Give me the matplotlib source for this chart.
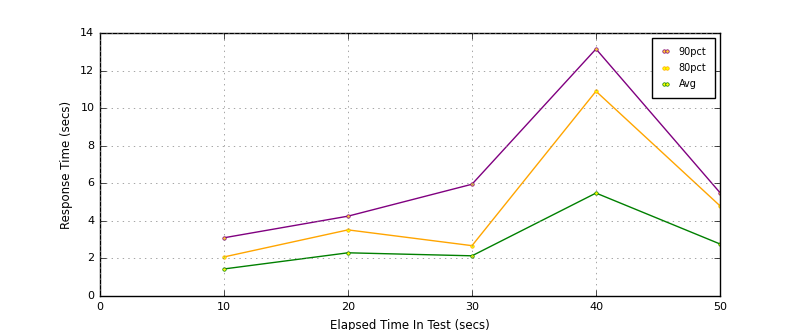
import matplotlib
matplotlib.use('Agg')
import matplotlib.pyplot as plt

elapsed = [10, 20, 30, 40, 50]
pct90 = [3.1, 4.25, 5.95, 13.15, 5.5]
pct80 = [2.08, 3.52, 2.68, 10.9, 4.8]
avg = [1.44, 2.3, 2.14, 5.48, 2.77]

plt.style.use('classic')
fig = plt.figure(figsize=(8, 3.3), dpi=100)
ax = fig.add_axes([0.125, 0.103, 0.775, 0.797])

ax.plot(elapsed, pct90, color='purple', marker='o', ms=2.5, mfc='#ffcc33', mec='purple', label='90pct')
ax.plot(elapsed, pct80, color='orange', marker='o', ms=2.5, mfc='yellow', mec='orange', label='80pct')
ax.plot(elapsed, avg, color='green', marker='o', ms=2.5, mfc='yellow', mec='green', label='Avg')

ax.set_xlim(0, 50)
ax.set_ylim(0, 14)
ax.grid(True, color='gray', linestyle=':')
ax.tick_params(labelsize=8)
ax.set_xlabel('Elapsed Time In Test (secs)', fontsize=8.5)
ax.set_ylabel('Response Time (secs)', fontsize=8.5)
leg = ax.legend(loc='upper right', fontsize=7, numpoints=2, fancybox=False,
                handlelength=0.9, handletextpad=0.9, labelspacing=0.65,
                borderpad=0.9, borderaxespad=0.5)
leg.get_frame().set_edgecolor('black')
for line in leg.get_lines():
    line.set_linestyle('None')

fig.savefig('out.png', dpi=100)
